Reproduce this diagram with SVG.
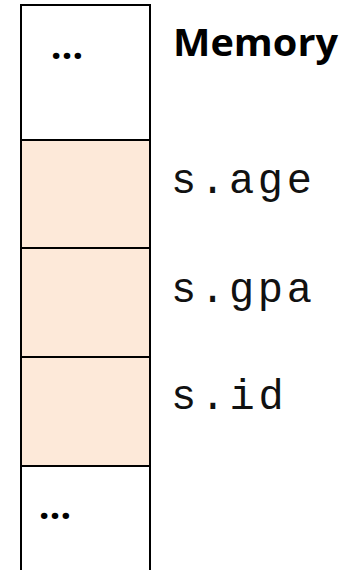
<svg xmlns="http://www.w3.org/2000/svg" width="345" height="570" viewBox="0 0 345 570">
  <style>
    .cell { stroke: #000; stroke-width: 2; }
    .free { fill: #ffffff; }
    .field { fill: #fde9d9; }
    .dots { font-family: "Open Sans", "Liberation Sans", sans-serif; font-weight: bold; font-size: 38px; fill: #000; }
    .label { font-family: "Liberation Mono", "DejaVu Sans Mono", monospace; font-size: 42px; fill: #111; }
    .title { font-family: "Open Sans", "Liberation Sans", sans-serif; font-weight: bold; font-size: 37px; fill: #000; }
  </style>
  <rect width="345" height="570" fill="#ffffff"/>

  <!-- memory column, top to bottom -->
  <g id="cell-above">
    <rect class="cell free" x="21" y="5" width="129" height="135"/>
    <text class="dots" x="67" y="59" text-anchor="middle">…</text>
  </g>
  <g id="cell-age">
    <rect class="cell field" x="21" y="140" width="129" height="108"/>
    <text class="label" x="171" y="193" textLength="141" lengthAdjust="spacing">s.age</text>
  </g>
  <g id="cell-gpa">
    <rect class="cell field" x="21" y="248" width="129" height="109"/>
    <text class="label" x="171" y="302" textLength="141" lengthAdjust="spacing">s.gpa</text>
  </g>
  <g id="cell-id">
    <rect class="cell field" x="21" y="357" width="129" height="109"/>
    <text class="label" x="171" y="409" textLength="112.8" lengthAdjust="spacing">s.id</text>
  </g>
  <g id="cell-below">
    <rect class="cell free" x="21" y="466" width="129" height="120"/>
    <text class="dots" x="55" y="519" text-anchor="middle">…</text>
  </g>

  <g id="title">
    <text class="title" x="173" y="56" textLength="165" lengthAdjust="spacingAndGlyphs">Memory</text>
  </g>
</svg>
